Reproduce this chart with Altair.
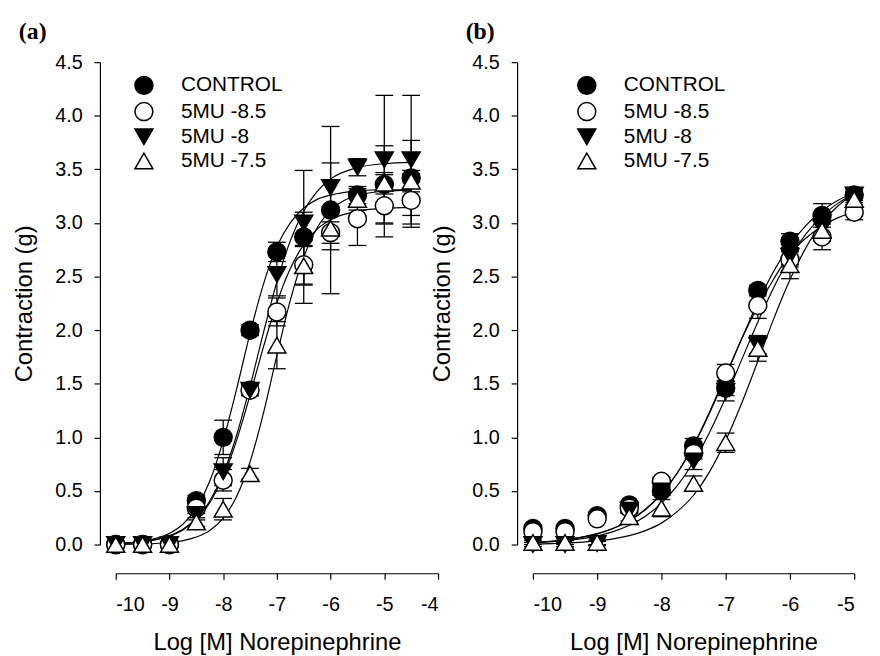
import altair as alt
import pandas as pd

SERIES = ["CONTROL", "5MU -8.5", "5MU -8", "5MU -7.5"]
SHAPES = ["circle", "circle", "triangle-down", "triangle-up"]
FILLS = ["black", "white", "black", "white"]
STROKES = ["black", "black", "black", "black"]
X_TITLE = "Log [M] Norepinephrine"
Y_TITLE = "Contraction (g)"

# ---------------- panel (a) ----------------
A_X = [-10, -9.5, -9, -8.5, -8, -7.5, -7, -6.5, -6, -5.5, -5, -4.5]
A_CONTROL = [0.0, 0.0, 0.0, 0.41, 1.0, 2.0, 2.73, 2.87, 3.12, 3.26, 3.36, 3.42]
A_MU85 = [0.0, 0.0, 0.0, 0.34, 0.60, 1.44, 2.17, 2.61, 2.91, 3.04, 3.16, 3.21]
A_MU8 = [0.0, 0.0, 0.0, 0.28, 0.68, 1.44, 2.52, 3.0, 3.33, 3.52, 3.59, 3.59]
A_MU75 = [0.0, 0.0, 0.0, 0.21, 0.33, 0.66, 1.86, 2.6, 2.95, 3.22, 3.37, 3.39]
A_CONTROL_ERR = [0, 0, 0, 0.05, 0.16, 0.05, 0.09, 0.62, 0.78, 0.08, 0.36, 0.35]
A_MU85_ERR = [0, 0, 0, 0.05, 0.10, 0.05, 0.13, 0.18, 0.10, 0.25, 0.29, 0.25]
A_MU8_ERR = [0, 0, 0, 0.05, 0.13, 0.05, 0.20, 0.10, 0.23, 0.08, 0.60, 0.60]
A_MU75_ERR = [0, 0, 0, 0.04, 0.10, 0.05, 0.22, 0.18, 0.20, 0.10, 0.10, 0.10]

A_CX = [-10, -9.5, -9, -8.75, -8.5, -8.25, -8, -7.75, -7.5, -7.25, -7, -6.75,
        -6.5, -6.25, -6, -5.5, -5, -4.5]
A_CONTROL_FIT = [0.009, 0.030, 0.105, 0.19, 0.34, 0.59, 0.97, 1.45, 1.97, 2.43,
                 2.78, 3.00, 3.14, 3.22, 3.26, 3.30, 3.31, 3.31]
A_MU85_FIT = [0.008, 0.025, 0.077, 0.135, 0.232, 0.39, 0.632, 0.972, 1.394, 1.844,
              2.253, 2.574, 2.798, 2.942, 3.029, 3.111, 3.137, 3.146]
A_MU8_FIT = [0.009, 0.027, 0.082, 0.142, 0.243, 0.407, 0.66, 1.02, 1.475, 1.977,
             2.45, 2.833, 3.11, 3.294, 3.41, 3.516, 3.553, 3.565]
A_MU75_FIT = [0.001, 0.005, 0.019, 0.036, 0.070, 0.132, 0.247, 0.449, 0.77, 1.227,
              1.764, 2.28, 2.68, 2.955, 3.117, 3.256, 3.296, 3.306]

# ---------------- panel (b) ----------------
B_X = [-10, -9.5, -9, -8.5, -8, -7.5, -7, -6.5, -6, -5.5, -5]
B_CONTROL = [0.15, 0.15, 0.27, 0.37, 0.50, 0.92, 1.46, 2.37, 2.83, 3.07, 3.26]
B_MU85 = [0.12, 0.12, 0.24, 0.34, 0.59, 0.85, 1.60, 2.23, 2.66, 2.87, 3.10]
B_MU8 = [0.0, 0.0, 0.01, 0.32, 0.50, 0.78, 1.43, 1.86, 2.69, 2.95, 3.26]
B_MU75 = [0.02, 0.02, 0.02, 0.26, 0.34, 0.57, 0.95, 1.83, 2.61, 2.93, 3.22]
B_CONTROL_ERR = [0.02, 0.02, 0.02, 0.03, 0.04, 0.07, 0.07, 0.05, 0.07, 0.11, 0.07]
B_MU85_ERR = [0.02, 0.02, 0.02, 0.03, 0.04, 0.05, 0.08, 0.12, 0.07, 0.12, 0.07]
B_MU8_ERR = [0.02, 0.02, 0.02, 0.03, 0.04, 0.08, 0.09, 0.08, 0.08, 0.07, 0.05]
B_MU75_ERR = [0.02, 0.02, 0.02, 0.04, 0.08, 0.07, 0.09, 0.12, 0.13, 0.10, 0.07]

B_CX = [-10, -9.5, -9, -8.75, -8.5, -8.25, -8, -7.75, -7.5, -7.25, -7, -6.75,
        -6.5, -6.25, -6, -5.75, -5.5, -5.25, -5]
B_CONTROL_FIT = [0.020, 0.045, 0.102, 0.152, 0.225, 0.329, 0.475, 0.672, 0.924, 1.228,
                 1.569, 1.921, 2.257, 2.552, 2.792, 2.978, 3.114, 3.212, 3.279]
B_MU85_FIT = [0.020, 0.045, 0.100, 0.150, 0.222, 0.325, 0.470, 0.670, 0.925, 1.240,
              1.580, 1.920, 2.220, 2.480, 2.710, 2.860, 2.970, 3.050, 3.100]
B_MU8_FIT = [0.016, 0.036, 0.081, 0.121, 0.180, 0.265, 0.386, 0.552, 0.772, 1.048,
             1.372, 1.725, 2.077, 2.401, 2.678, 2.898, 3.064, 3.185, 3.270]
B_MU75_FIT = [0.005, 0.013, 0.034, 0.053, 0.083, 0.13, 0.20, 0.31, 0.46, 0.68,
              0.97, 1.32, 1.71, 2.11, 2.47, 2.77, 3.00, 3.16, 3.27]

FONT = "Liberation Sans, Arial, sans-serif"


def build_panel(xs, ys, errs, cx, fits, xmax, width, label, label_x, leg_x):
    rows = []
    for k, (s, yv, ev) in enumerate(zip(SERIES, ys, errs)):
        for x, y, e in zip(xs, yv, ev):
            rows.append({"x": x, "y": y, "lo": y - e, "hi": y + e, "series": s, "ord": k})
    pts = pd.DataFrame(rows)
    crows = []
    for s, fv in zip(SERIES, fits):
        for x, y in zip(cx, fv):
            crows.append({"x": x, "y": y, "series": s})
    crv = pd.DataFrame(crows)

    xscale = alt.Scale(domain=[-10, xmax], nice=False, zero=False)
    yscale = alt.Scale(domain=[0, 4.5], nice=False, zero=False)
    xaxis = alt.Axis(values=list(range(-10, xmax + 1)), offset=29, tickSize=6,
                     labelPadding=16, titlePadding=16, labelExpr="'' + datum.value")
    yaxis = alt.Axis(values=[0, 0.5, 1, 1.5, 2, 2.5, 3, 3.5, 4, 4.5], offset=16,
                     tickSize=6, labelPadding=12, titlePadding=18, format=".1f")
    X = alt.X("x:Q", scale=xscale, axis=xaxis, title=X_TITLE)
    Y = alt.Y("y:Q", scale=yscale, axis=yaxis, title=Y_TITLE)

    lines = alt.Chart(crv).mark_line(interpolate="monotone", color="black",
                                     strokeWidth=1.2).encode(x=X, y=Y, detail="series:N")
    rules = alt.Chart(pts).mark_rule(color="black", strokeWidth=1.3).encode(
        x="x:Q", y="lo:Q", y2="hi:Q")
    cap_hi = alt.Chart(pts).mark_tick(orient="horizontal", color="black", size=18,
                                       thickness=1.3, opacity=1).encode(x="x:Q", y="hi:Q")
    cap_lo = alt.Chart(pts).mark_tick(orient="horizontal", color="black", size=18,
                                       thickness=1.3, opacity=1).encode(x="x:Q", y="lo:Q")
    leg = alt.Legend(title=None, orient="none", legendX=leg_x, legendY=13, padding=0,
                     symbolSize=330, symbolStrokeWidth=1.5,
                     labelFontSize=21, labelFont=FONT, labelColor="black",
                     labelOffset=27, rowPadding=1.5, symbolOpacity=1)
    points = alt.Chart(pts).mark_point(size=330, opacity=1, fillOpacity=1,
                                       strokeWidth=1.5).encode(
        x="x:Q", y="y:Q",
        shape=alt.Shape("series:N", scale=alt.Scale(domain=SERIES, range=SHAPES), legend=leg),
        fill=alt.Fill("series:N", scale=alt.Scale(domain=SERIES, range=FILLS), legend=leg),
        stroke=alt.Stroke("series:N", scale=alt.Scale(domain=SERIES, range=STROKES), legend=leg),
        order=alt.Order("ord:Q"),
    )
    lab = alt.Chart(pd.DataFrame({"t": [label]})).mark_text(
        font="Liberation Serif", fontWeight="bold", fontSize=24, align="left",
        baseline="middle", color="black").encode(
        x=alt.value(label_x), y=alt.value(-30), text="t:N")
    return alt.layer(lines, rules, cap_hi, cap_lo, points, lab).properties(
        width=width, height=488)


pa = build_panel(A_X, [A_CONTROL, A_MU85, A_MU8, A_MU75],
                 [A_CONTROL_ERR, A_MU85_ERR, A_MU8_ERR, A_MU75_ERR],
                 A_CX, [A_CONTROL_FIT, A_MU85_FIT, A_MU8_FIT, A_MU75_FIT],
                 -4, 326, "(a)", -98, 18)
pb = build_panel(B_X, [B_CONTROL, B_MU85, B_MU8, B_MU75],
                 [B_CONTROL_ERR, B_MU85_ERR, B_MU8_ERR, B_MU75_ERR],
                 B_CX, [B_CONTROL_FIT, B_MU85_FIT, B_MU8_FIT, B_MU75_FIT],
                 -5, 325, "(b)", -68, 44)

chart = alt.hconcat(pa, pb, spacing=96, bounds="flush").resolve_scale(
    shape="independent", fill="independent", stroke="independent",
    x="independent", y="independent"
).resolve_legend(shape="independent", fill="independent", stroke="independent").properties(
    padding={"left": 5, "top": 9, "right": 5, "bottom": 2}
).configure_view(strokeWidth=0).configure_axis(
    labelFont=FONT, titleFont=FONT, labelFontSize=20, titleFontSize=24,
    titleFontWeight="normal", labelColor="black", titleColor="black",
    domainColor="black", tickColor="black", domainWidth=1.2, tickWidth=1.2,
    grid=False
)

chart.save("out.html", embed_options={"renderer": "svg", "actions": False})
